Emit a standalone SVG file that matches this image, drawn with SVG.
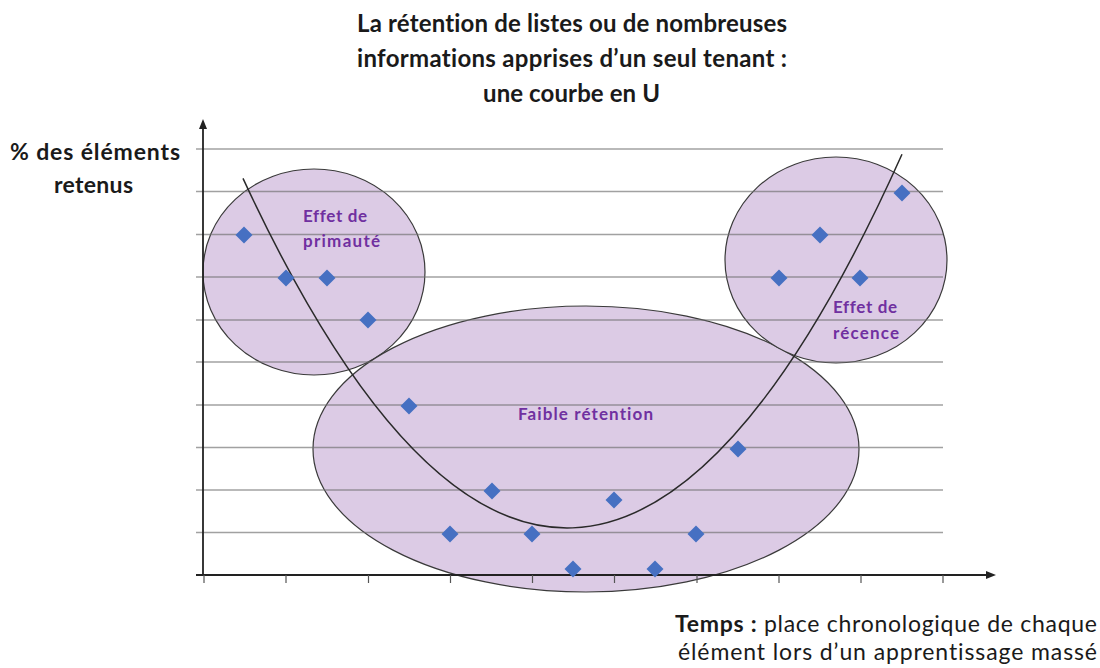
<svg xmlns="http://www.w3.org/2000/svg" width="1100" height="668" viewBox="0 0 1100 668">
<style>
text{font-variant-ligatures:none}
.t{font-family:Lato,"Open Sans","Liberation Sans",sans-serif;fill:#1a1a1a}
.title{font-size:24px;font-weight:700;text-anchor:middle}
.lab{font-family:Lato,"Liberation Sans",sans-serif;font-size:17px;font-weight:700;fill:#7030a0}
.grid{stroke:#6e6e6e;stroke-opacity:0.65;stroke-width:1.6;fill:none}
.ell{fill:#dccbe5;stroke:#3a3a3a;stroke-width:1.2}
.axis{stroke:#222;stroke-width:1.8;fill:none}
.pt{fill:#4670c2}
</style>
<defs>
<path id="d" d="M0,-8.5 L8.5,0 L0,8.5 L-8.5,0 Z" class="pt"/>
</defs>
<rect width="1100" height="668" fill="#fff"/>

<g id="title" class="t title">
<text x="572" y="32" textLength="430">La rétention de listes ou de nombreuses</text>
<text x="572" y="67" textLength="430">informations apprises d’un seul tenant :</text>
<text x="571.5" y="102" textLength="177">une courbe en U</text>
</g>

<g id="ellipses">
<ellipse id="primaute" class="ell" cx="314" cy="272" rx="111" ry="103"/>
<ellipse id="faible" class="ell" cx="586" cy="449" rx="273" ry="143"/>
<ellipse id="recence" class="ell" cx="836" cy="260" rx="111" ry="103"/>
</g>

<g id="grid" class="grid">
<line x1="196" y1="149" x2="943" y2="149"/>
<line x1="196" y1="191.5" x2="943" y2="191.5"/>
<line x1="196" y1="234.5" x2="943" y2="234.5"/>
<line x1="196" y1="277" x2="943" y2="277"/>
<line x1="196" y1="320" x2="943" y2="320"/>
<line x1="196" y1="362" x2="943" y2="362"/>
<line x1="196" y1="405" x2="943" y2="405"/>
<line x1="196" y1="447.5" x2="943" y2="447.5"/>
<line x1="196" y1="490" x2="943" y2="490"/>
<line x1="196" y1="532.5" x2="943" y2="532.5"/>
</g>

<g id="axes">
<line class="axis" x1="203" y1="128" x2="203" y2="576"/>
<path d="M203,119 L199,129 L207,129 Z" fill="#222"/>
<line class="axis" x1="196" y1="575" x2="986" y2="575"/>
<path d="M996,575 L986,571 L986,579 Z" fill="#222"/>
<g stroke="#555" stroke-width="1.2">
<line x1="204" y1="575" x2="204" y2="583"/>
<line x1="286" y1="575" x2="286" y2="583"/>
<line x1="368.5" y1="575" x2="368.5" y2="583"/>
<line x1="450.5" y1="575" x2="450.5" y2="583"/>
<line x1="532.5" y1="575" x2="532.5" y2="583"/>
<line x1="614.5" y1="575" x2="614.5" y2="583"/>
<line x1="697" y1="575" x2="697" y2="583"/>
<line x1="779" y1="575" x2="779" y2="583"/>
<line x1="861" y1="575" x2="861" y2="583"/>
<line x1="943" y1="575" x2="943" y2="583"/>
</g>
</g>

<g id="connectors">
<path id="courbe" fill="none" stroke="#2a2a2a" stroke-width="1.5" d="M243,178.4 Q572.5,889.4 902,154.3"/>
</g>

<g id="points">
<use href="#d" x="244" y="235"/>
<use href="#d" x="286" y="278"/>
<use href="#d" x="327" y="278"/>
<use href="#d" x="368" y="320"/>
<use href="#d" x="409" y="406"/>
<use href="#d" x="450" y="534"/>
<use href="#d" x="492" y="491"/>
<use href="#d" x="532" y="534"/>
<use href="#d" x="573" y="569"/>
<use href="#d" x="614" y="500"/>
<use href="#d" x="655" y="569"/>
<use href="#d" x="696" y="534"/>
<use href="#d" x="738" y="449"/>
<use href="#d" x="779" y="278"/>
<use href="#d" x="820" y="235"/>
<use href="#d" x="860" y="278"/>
<use href="#d" x="902" y="193"/>
</g>

<g id="labels">
<text class="lab" x="303" y="222" textLength="64">Effet de</text>
<text class="lab" x="303" y="247" textLength="77">primauté</text>
<text class="lab" x="833" y="313" textLength="64">Effet de</text>
<text class="lab" x="833" y="339" textLength="66">récence</text>
<text class="lab" x="518" y="420" textLength="135">Faible rétention</text>
</g>

<g id="ylabel" class="t" font-size="23" font-weight="700" text-anchor="middle">
<text x="95" y="160" textLength="170">% des éléments</text>
<text x="93.5" y="193" textLength="79">retenus</text>
</g>

<g id="xlabel" class="t" font-size="23">
<text x="675" y="632" textLength="422"><tspan font-weight="700">Temps :</tspan> place chronologique de chaque</text>
<text x="678" y="660" textLength="419">élément lors d’un apprentissage massé</text>
</g>
</svg>
